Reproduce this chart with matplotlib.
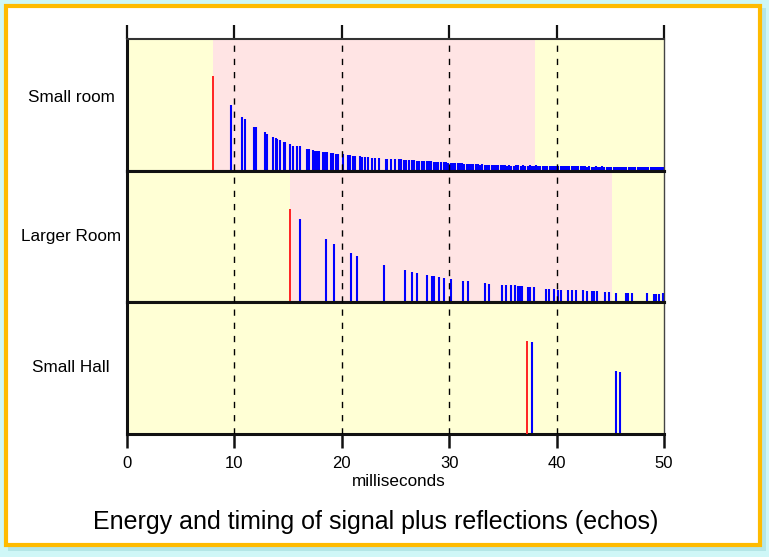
import matplotlib
matplotlib.use("Agg")
import matplotlib.pyplot as plt
from matplotlib.patches import Rectangle

plt.rcParams['font.family'] = ['Liberation Sans', 'DejaVu Sans']

# ---------------- data ----------------
panel_names = ["Small room", "Larger Room", "Small Hall"]

signal_t = [8.0, 15.2, 37.27]
signal_h = [0.72, 0.71, 0.71]

window_start = [8.0, 15.2, None]
window_end = [38.0, 45.2, None]

small_t = [9.65, 10.68, 10.96, 11.83, 12.0, 12.82, 13.0, 13.56, 13.84, 14.0,
           14.25, 14.59, 14.74, 15.15, 15.43, 15.8, 16.1, 16.73, 16.9, 17.29,
           17.5, 17.66, 17.88, 18.22, 18.4, 18.6, 18.97, 19.15, 19.46, 19.68,
           20.08, 20.55, 20.76, 21.0, 21.26, 21.66, 21.88, 22.16, 22.47, 22.81,
           23.09, 23.46, 24.1, 24.2, 24.55, 24.98, 25.3,
           25.55, 25.8, 26.0, 26.3, 26.5, 26.75, 27.0, 27.2, 27.45, 27.7,
           27.9, 28.1, 28.35, 28.6, 28.8, 29.0, 29.25, 29.5, 29.7, 29.9,
           30.15, 30.35, 30.55, 30.8, 31.0, 31.2, 31.4, 31.65, 31.85, 32.05,
           32.25, 32.5, 32.7, 32.9, 33.1, 33.3, 33.5, 33.75, 33.95, 34.15,
           34.35, 34.55, 34.8, 35.0, 35.2, 35.4, 35.6, 35.8, 36.0, 36.25,
           36.45, 36.65, 36.85, 37.05, 37.3, 37.5, 37.7, 37.9, 38.1, 38.3,
           38.5, 38.7, 38.95, 39.15, 39.35, 39.55, 39.75, 39.95, 40.15, 40.4,
           40.6, 40.8, 41.0, 41.2, 41.4, 41.6, 41.8, 42.0, 42.25, 42.45,
           42.65, 42.85, 43.05, 43.25, 43.45, 43.65, 43.85, 44.05, 44.25, 44.45,
           44.7, 44.9, 45.1, 45.3, 45.5, 45.7, 45.9, 46.1, 46.3, 46.5,
           46.7, 46.9, 47.1, 47.3, 47.55, 47.75, 47.95, 48.15, 48.35, 48.55,
           48.75, 48.95, 49.15, 49.35, 49.55, 49.75, 49.95]
small_h = [0.50, 0.41, 0.39, 0.33, 0.33, 0.29, 0.28, 0.257, 0.245, 0.24,
           0.235, 0.22, 0.22, 0.20, 0.19, 0.19, 0.185, 0.168, 0.168, 0.155,
           0.153, 0.15, 0.148, 0.145, 0.143, 0.14, 0.135, 0.135, 0.13, 0.128,
           0.125, 0.12, 0.116, 0.115, 0.115, 0.11, 0.107, 0.107, 0.105, 0.10,
           0.10, 0.095, 0.09, 0.09, 0.088, 0.087, 0.087,
           0.085, 0.082, 0.084, 0.080, 0.078, 0.080, 0.076, 0.074, 0.077, 0.073,
           0.072, 0.070, 0.072, 0.068, 0.066, 0.068, 0.064, 0.063, 0.065, 0.061,
           0.060, 0.058, 0.060, 0.056, 0.055, 0.057, 0.053, 0.052, 0.054, 0.050,
           0.049, 0.051, 0.047, 0.046, 0.048, 0.045, 0.044, 0.046, 0.043, 0.042,
           0.044, 0.041, 0.040, 0.042, 0.040, 0.039, 0.041, 0.039, 0.038, 0.040,
           0.040, 0.039, 0.041, 0.039, 0.039, 0.040, 0.038, 0.038, 0.040, 0.037,
           0.037, 0.039, 0.036, 0.036, 0.038, 0.035, 0.035, 0.037, 0.035, 0.035,
           0.036, 0.034, 0.034, 0.035, 0.033, 0.033, 0.035, 0.033, 0.032, 0.034,
           0.032, 0.031, 0.033, 0.031, 0.031, 0.032, 0.030, 0.030, 0.032, 0.030,
           0.029, 0.031, 0.029, 0.029, 0.030, 0.028, 0.028, 0.030, 0.028, 0.028,
           0.029, 0.027, 0.027, 0.029, 0.027, 0.027, 0.028, 0.026, 0.026, 0.028,
           0.026, 0.026, 0.027, 0.025, 0.025, 0.026, 0.025]

large_t = [16.08, 18.5, 19.24, 20.83, 21.38, 23.9, 25.86, 26.54, 27.03, 27.9,
           28.37, 28.56, 29.05, 29.49, 30.17, 31.28, 31.72, 33.3, 33.74, 34.89,
           35.33, 35.75, 36.12, 36.38, 36.6, 36.78, 37.31, 37.56, 37.9, 38.98,
           39.27, 39.79, 40.1, 40.43, 41.03, 41.43, 41.8, 42.43, 42.8, 43.27,
           43.45, 43.73, 44.5, 44.9, 45.56, 46.43, 46.65, 47.02, 48.42, 49.04,
           49.25, 49.56, 49.87]
large_h = [0.635, 0.48, 0.445, 0.377, 0.355, 0.286, 0.246, 0.23, 0.223, 0.21,
           0.203, 0.2, 0.195, 0.188, 0.178, 0.165, 0.163, 0.15, 0.142, 0.135,
           0.13, 0.128, 0.128, 0.122, 0.122, 0.122, 0.12, 0.12, 0.117, 0.104,
           0.102, 0.104, 0.097, 0.097, 0.097, 0.095, 0.095, 0.09, 0.085, 0.085,
           0.085, 0.085, 0.078, 0.08, 0.074, 0.074, 0.074, 0.074, 0.068, 0.065,
           0.065, 0.065, 0.068]

hall_t = [37.7, 45.53, 45.87]
hall_h = [0.70, 0.477, 0.47]

echo_t = [small_t, large_t, hall_t]
echo_h = [small_h, large_h, hall_h]

xticks = [0, 10, 20, 30, 40, 50]
grid_x = [10, 20, 30, 40]
x_label = "milliseconds"
title = "Energy and timing of signal plus reflections (echos)"

# ---------------- figure ----------------
W, H = 769, 557
fig = plt.figure(figsize=(W / 100, H / 100), dpi=100)
fig.patch.set_facecolor('#cff7f7')

def px_rect(x0, y0, x1, y1, **kw):
    return Rectangle((x0 / W, 1 - y1 / H), (x1 - x0) / W, (y1 - y0) / H,
                     transform=fig.transFigure, **kw)

# shadow and frame (behind the axes)
fig.patches.append(px_rect(8, 8, 766, 551, facecolor='#b4e6e6', edgecolor='none', zorder=-3))
fig.patches.append(px_rect(6, 6, 760, 545, facecolor='white', edgecolor='#ffbb00',
                           linewidth=3.0, zorder=-2))

left_px, right_px = 127, 664
tops = [39, 170.67, 302.33]
panel_h = 131.67
YELLOW = '#ffffd5'
PINK = '#ffe4e4'

for i in range(3):
    top = tops[i]
    ax = fig.add_axes([left_px / W, 1 - (top + panel_h) / H,
                       (right_px - left_px) / W, panel_h / H])
    ax.set_facecolor(YELLOW)
    ax.set_xlim(0, 50)
    ax.set_ylim(0, 1)
    ax.set_yticks([])
    if window_start[i] is not None:
        ax.axvspan(window_start[i], window_end[i], color=PINK, lw=0, zorder=0.5)
    ax.vlines(echo_t[i], 0, echo_h[i], colors='#0000ff', linewidth=1.5, zorder=2)
    ax.vlines([signal_t[i]], 0, [signal_h[i]], colors='#ff2222', linewidth=1.4, zorder=3)
    for s in ax.spines.values():
        s.set_color('#111111')
        s.set_linewidth(2.2)
    ax.spines['right'].set_linewidth(1.0)
    ax.spines['right'].set_color('#444444')
    if i == 0:
        ax.spines['top'].set_linewidth(1.5)
        ax.spines['top'].set_color('#333333')
        ax.xaxis.set_ticks_position('top')
        ax.set_xticks(xticks)
        ax.tick_params(axis='x', direction='out', length=10, width=1.6,
                       labeltop=False, labelbottom=False, color='#111111')
    elif i == 2:
        ax.set_xticks(xticks)
        ax.set_xticklabels([str(v) for v in xticks])
        ax.tick_params(axis='x', direction='out', length=10, width=1.8, pad=6,
                       labelsize=12, color='#111111')
    else:
        ax.set_xticks([])
    fig.text(71 / W, 1 - [97, 237, 367][i] / H, panel_names[i], ha='center',
             va='center', fontsize=12.3)

# dashed grid overlay spanning all panels
ov = fig.add_axes([left_px / W, 1 - 434 / H, (right_px - left_px) / W, (434 - 39) / H])
ov.set_xlim(0, 50)
ov.set_ylim(0, 1)
ov.patch.set_alpha(0)
ov.axis('off')
for gx in grid_x:
    ov.axvline(gx, color='black', linestyle=(0, (4.5, 5)), linewidth=1.0, zorder=5)

fig.text(399 / W, 1 - 481 / H, x_label, ha='center', va='center', fontsize=12.3)
fig.text(376 / W, 1 - 522 / H, title, ha='center', va='center', fontsize=18)

fig.savefig('out.png', dpi=100, facecolor=fig.get_facecolor())
